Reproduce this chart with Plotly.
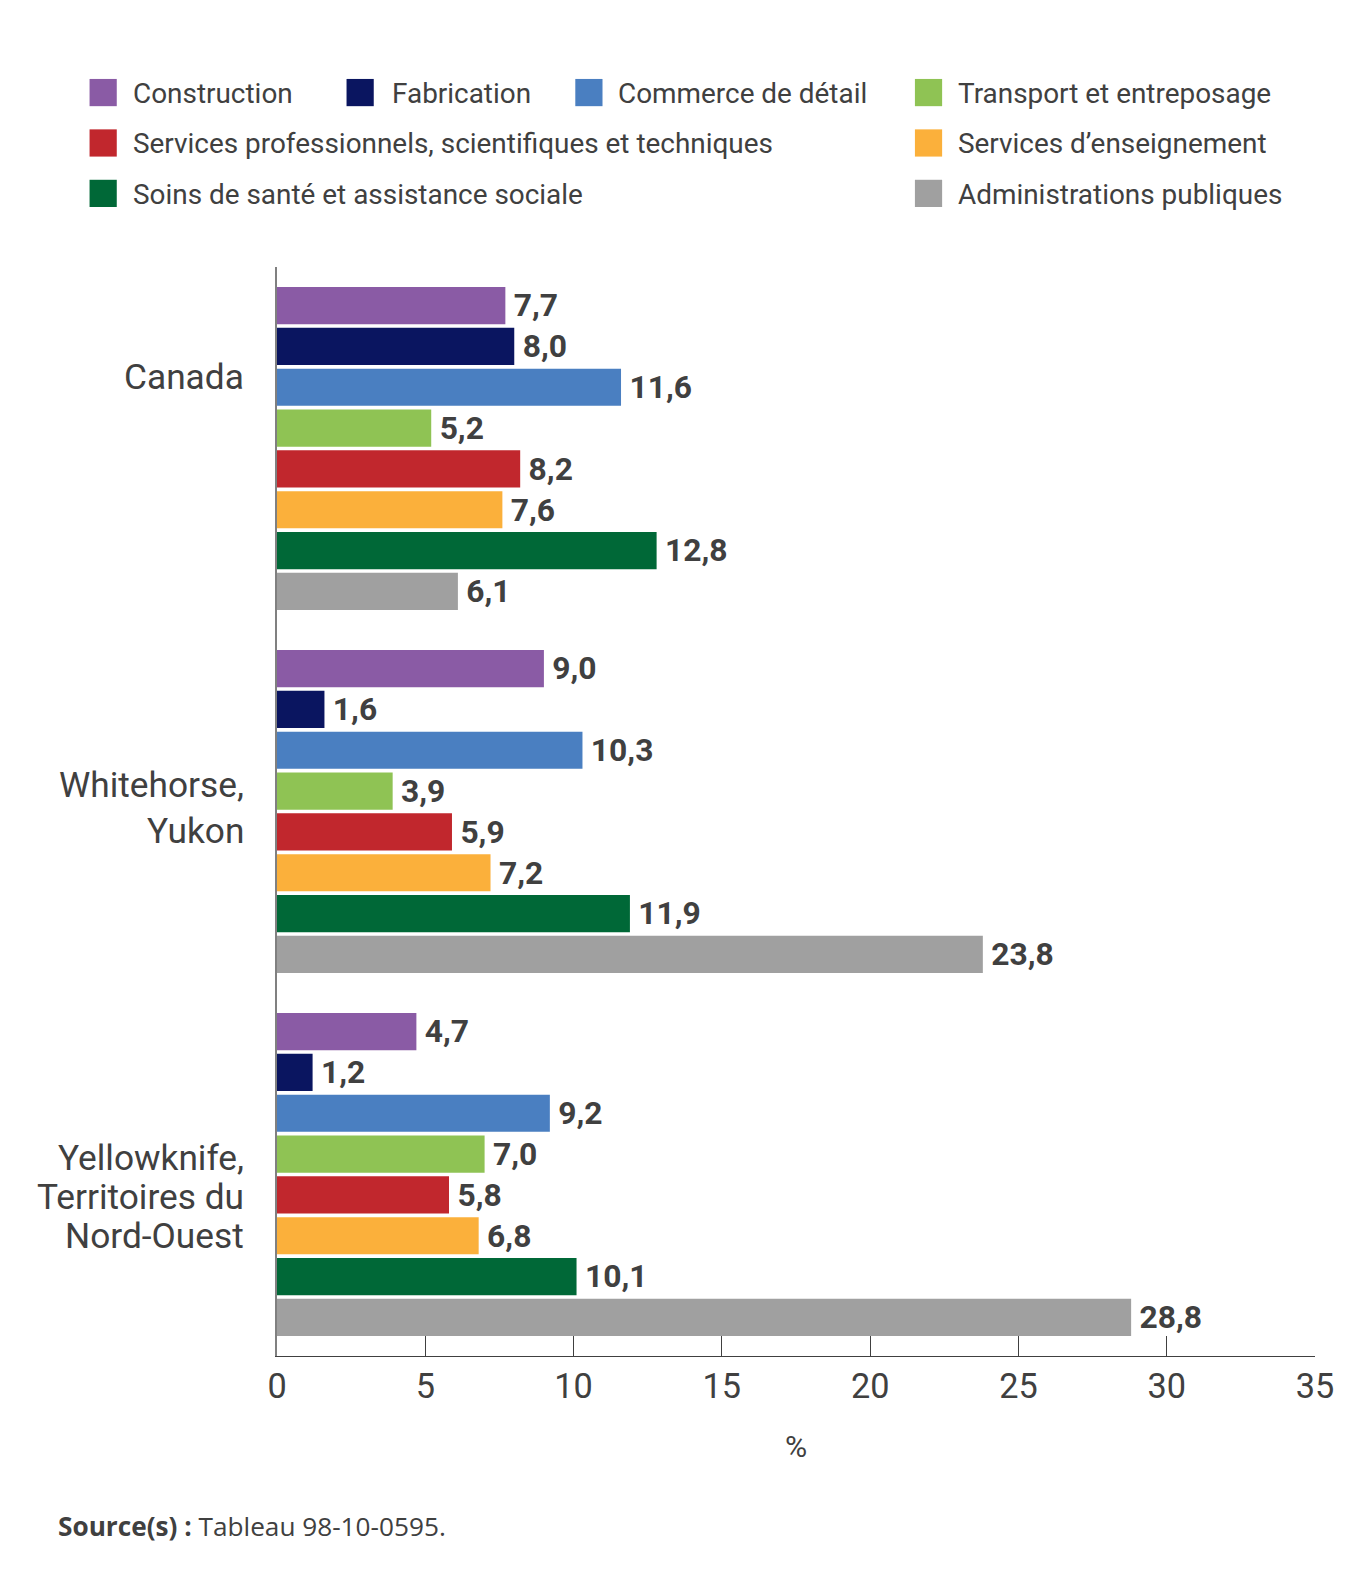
import plotly.graph_objects as go

regions = ["Canada", "Whitehorse,<br>Yukon", "Yellowknife,<br>Territoires du<br>Nord-Ouest"]
industries = [
    "Construction",
    "Fabrication",
    "Commerce de détail",
    "Transport et entreposage",
    "Services professionnels, scientifiques et techniques",
    "Services d’enseignement",
    "Soins de santé et assistance sociale",
    "Administrations publiques",
]
colors = ["#8a5ba5", "#0a1560", "#4a7fc1", "#8fc354", "#c1272d", "#fbb03b", "#006837", "#a0a0a0"]

construction = [7.7, 9.0, 4.7]
fabrication = [8.0, 1.6, 1.2]
commerce = [11.6, 10.3, 9.2]
transport = [5.2, 3.9, 7.0]
services_prof = [8.2, 5.9, 5.8]
enseignement = [7.6, 7.2, 6.8]
sante = [12.8, 11.9, 10.1]
admin = [6.1, 23.8, 28.8]
series = [construction, fabrication, commerce, transport, services_prof, enseignement, sante, admin]

# observed page rendering: screen = offset + S * figure coords
S, AX, AY = 0.992, 7, 8

def fx(xs):
    return (xs - AX) / S

def fy(ys):
    return (ys - AY) / S

def fs(size):
    return size / S

W, H = 1350, 1565
# plot area in screenshot pixels
L, R, T, B = 274, 1304, 265, 1345

def px(x):
    return (x - L) / (R - L)

def py(y):
    return (B - y) / (B - T)

fig = go.Figure()
for name, vals, col in zip(industries, series, colors):
    fig.add_trace(go.Bar(
        y=regions, x=vals, name=name, orientation="h",
        marker=dict(color=col, line=dict(width=0)),
        texttemplate="\u2006%{x:.1f}", textposition="outside",
        outsidetextfont=dict(family="Roboto", size=fs(36.5), color="#404040", weight="bold"),
        cliponaxis=False, showlegend=False,
    ))

shapes = []
annotations = []
legend_pos = [
    (88, 129, 92), (343, 386, 92), (570, 610, 92), (907, 948, 92),
    (88, 129, 142), (907, 948, 142),
    (88, 129, 192), (907, 948, 192),
]
for (sx, tx, ry), name, col in zip(legend_pos, industries, colors):
    shapes.append(dict(type="rect", xref="paper", yref="paper",
                       x0=px(sx), x1=px(sx + 27), y0=py(ry + 13.5), y1=py(ry - 13.5),
                       fillcolor=col, line=dict(width=0)))
    annotations.append(dict(xref="paper", yref="paper", x=px(tx), y=py(ry + 1),
                            xanchor="left", yanchor="middle", showarrow=False,
                            text=name, font=dict(family="Roboto", size=fs(27.7), color="#404040")))

# category labels, one annotation per line (line spacing differs per label)
line_centers = [[374], [779, 824], [1148.5, 1187, 1226]]
for lab, centers in zip(regions, line_centers):
    for line, cy in zip(lab.split("<br>"), centers):
        annotations.append(dict(xref="paper", yref="paper", x=px(243), y=py(cy),
                                xanchor="right", yanchor="middle", showarrow=False,
                                text=line, font=dict(family="Roboto", size=fs(35), color="#404040")))

annotations.append(dict(xref="paper", yref="paper", x=px(789), y=py(1435),
                        xanchor="center", yanchor="middle", showarrow=False,
                        text="%", font=dict(family="Roboto", size=fs(30), color="#404040")))
annotations.append(dict(xref="paper", yref="paper", x=px(55), y=py(1514),
                        xanchor="left", yanchor="middle", showarrow=False,
                        text="<b>Source(s) :</b> Tableau 98-10-0595.",
                        font=dict(family="Open Sans", size=fs(26), color="#404040")))

fig.update_layout(
    width=W, height=H,
    margin=dict(l=fx(L), r=W - fx(R), t=fy(T), b=H - fy(B), pad=0),
    paper_bgcolor="white", plot_bgcolor="white",
    barmode="group", bargap=0.1, bargroupgap=0.09,
    separators=", ",
    shapes=shapes, annotations=annotations,
    font=dict(family="Roboto", color="#404040"),
    xaxis=dict(range=[0, 35], dtick=5, tick0=0, showgrid=False, zeroline=False,
               showline=True, linecolor="#404040", linewidth=1,
               ticks="inside", ticklen=20, tickcolor="#404040", tickwidth=1,
               tickfont=dict(family="Roboto", size=fs(34), color="#404040")),
    yaxis=dict(autorange="reversed", showgrid=False, zeroline=False,
               showline=True, linecolor="#808080", linewidth=2, ticks="",
               showticklabels=False),
)

fig.write_html("out.html")
